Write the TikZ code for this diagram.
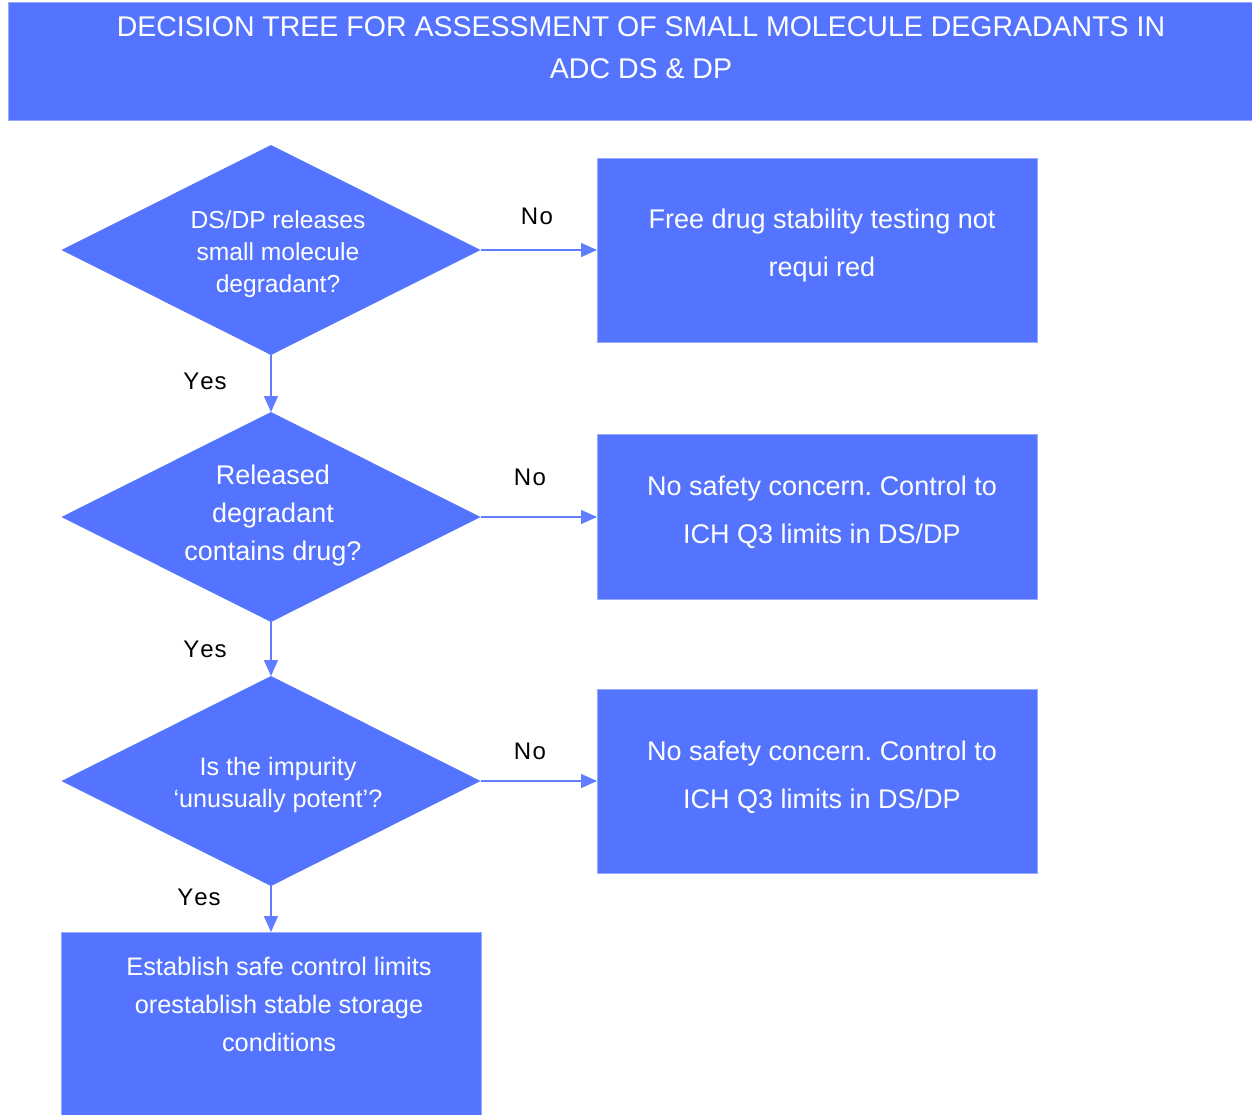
\documentclass[tikz,border=0pt]{standalone}
\usepackage{fontspec}
\setmainfont{Liberation Sans}
\usetikzlibrary{shapes.geometric,arrows.meta}
\definecolor{fc}{RGB}{84,116,255}
\definecolor{ec}{RGB}{150,170,255}
\definecolor{lc}{RGB}{96,126,255}
\frenchspacing
\begin{document}
\begin{tikzpicture}[x=1pt,y=-1pt,
  dia/.style={diamond, aspect=2, fill=fc, draw=none, minimum width=419pt, minimum height=210pt, inner sep=0pt, outer sep=0pt},
  box/.style={rectangle, fill=fc, draw=ec, line width=0.8pt, inner sep=0pt, outer sep=0pt, minimum width=440pt},
  wtext/.style={text=white, align=center, inner sep=0pt},
  lab/.style={text=black, inner sep=0pt, font=\fontsize{24}{26}\selectfont},
  conn/.style={draw=lc, line width=1.5pt, -{Triangle[length=16pt,width=14pt]}}
]
\useasboundingbox (0,0) rectangle (1252,1114);
\fill[white] (0,0) rectangle (1252,1114);

% header
\node[rectangle, fill=fc, draw=ec, line width=0.8pt, minimum width=1244pt, minimum height=118pt, inner sep=0pt] (hdr) at (630,61) {};
\node[wtext, font=\fontsize{28.5}{42}\selectfont] (hdrt) at (641,48) {DECISION TREE FOR ASSESSMENT OF SMALL MOLECULE DEGRADANTS IN\\ADC DS \& DP};

% diamonds
\node[dia] (d1) at (271,250) {};
\node[dia] (d2) at (271,517) {};
\node[dia] (d3) at (271,781) {};
\node[wtext, font=\fontsize{24.6}{32}\selectfont] (d1t) at (278,254) {DS/DP releases\\small molecule\\degradant?};
\node[wtext, font=\fontsize{27}{38}\selectfont] (d2t) at (273,516) {Released\\degradant\\contains drug?};
\node[wtext, font=\fontsize{25.2}{32}\selectfont] (d3t) at (278,785) {Is the impurity\\‘unusually potent’?};

% boxes
\node[box, minimum height=184pt] (b1) at (817,250) {};
\node[box, minimum height=165pt] (b2) at (817,516.5) {};
\node[box, minimum height=184pt] (b3) at (817,781) {};
\node[box, minimum width=420pt, minimum height=190pt] (b4) at (271,1027) {};
\node[wtext, font=\fontsize{27}{48}\selectfont] (b1t) at (822,246) {Free drug stability testing not\\requi red};
\node[wtext, font=\fontsize{27}{48}\selectfont] (b2t) at (822,512) {No safety concern. Control to\\ICH Q3 limits in DS/DP};
\node[wtext, font=\fontsize{27}{48}\selectfont] (b3t) at (822,777) {No safety concern. Control to\\ICH Q3 limits in DS/DP};
\node[wtext, font=\fontsize{25.3}{38}\selectfont] (b4t) at (279,1004) {Establish safe control limits\\orestablish stable storage\\conditions};

% connectors
\draw[conn] (d1.east) -- (b1.west);
\draw[conn] (d2.east) -- (b2.west |- d2.east);
\draw[conn] (d3.east) -- (b3.west |- d3.east);
\draw[conn] (d1.south) -- (d2.north);
\draw[conn] (d2.south) -- (d3.north);
\draw[conn] (d3.south) -- (b4.north);

% labels
\node[lab] (no1) at (537,216) {N\kern1.5pt o};
\node[lab] (no2) at (530,477) {N\kern1.5pt o};
\node[lab] (no3) at (530,751) {N\kern1.5pt o};
\node[lab] (y1) at (205,381) {Y\kern1pt e\kern1pt s};
\node[lab] (y2) at (205,649) {Y\kern1pt e\kern1pt s};
\node[lab] (y3) at (199,897) {Y\kern1pt e\kern1pt s};
\end{tikzpicture}
\end{document}
